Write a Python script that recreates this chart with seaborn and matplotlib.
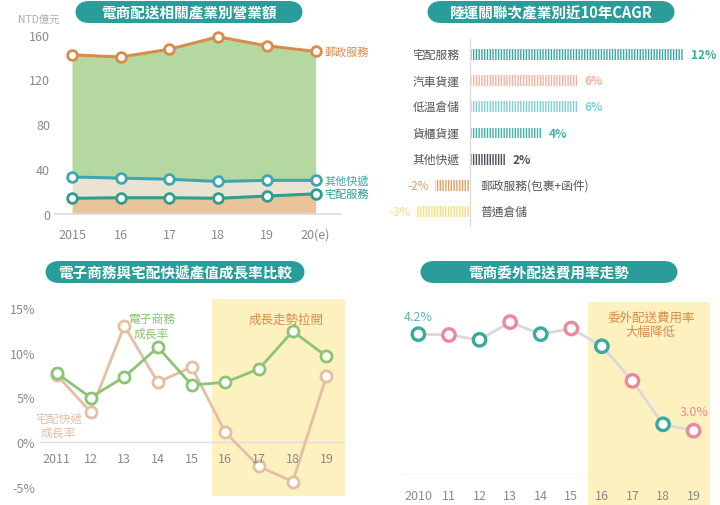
import matplotlib
matplotlib.use("Agg")
import matplotlib.pyplot as plt
from matplotlib.patches import FancyBboxPatch, Rectangle
import seaborn as sns
import pandas as pd

plt.rcParams["font.family"] = ["Noto Sans CJK TC", "DejaVu Sans"]
sns.set_theme(style="white", rc={"font.family": ["Noto Sans CJK TC", "DejaVu Sans"]})

# ---- data ----
rev_years = ["2015", "16", "17", "18", "19", "20(e)"]
rev_post = [142, 140, 147, 158, 150, 145]
rev_other = [33, 32, 31, 29, 30, 30]
rev_home = [14, 14.5, 14.5, 14, 16, 18]

cagr_cats = ["宅配服務", "汽車貨運", "低溫倉儲", "貨櫃貨運", "其他快遞", "郵政服務(包裹+函件)", "普通倉儲"]
cagr_vals = [12, 6, 6, 4, 2, -2, -3]

gr_years = ["2011", "12", "13", "14", "15", "16", "17", "18", "19"]
gr_ecom = [7.7, 5.0, 7.3, 10.6, 6.4, 6.7, 8.2, 12.4, 9.6]
gr_deliv = [7.5, 3.4, 13.0, 6.7, 8.4, 1.1, -2.7, -4.4, 7.4]

fee_years = ["2010", "11", "12", "13", "14", "15", "16", "17", "18", "19"]
fee_vals = [4.2, 4.19, 4.13, 4.35, 4.2, 4.27, 4.05, 3.62, 3.08, 3.0]

TEAL = "#2a9d9b"
GRAY = "#8a8a8a"
W, H = 720, 506
fig = plt.figure(figsize=(7.2, 5.06), dpi=100)

def ax_px(l, t, r, b):
    return fig.add_axes([l / W, 1 - b / H, (r - l) / W, (b - t) / H])

def pill(l, r, yc, text):
    h = 22
    p = FancyBboxPatch((l / W, (H - yc - h / 2) / H), (r - l) / W, h / H,
                       boxstyle="round,pad=0,rounding_size=0.02", transform=fig.transFigure,
                       fc=TEAL, ec="none", mutation_aspect=W / H)
    fig.patches.append(p)
    fig.text((l + r) / 2 / W, 1 - yc / H, text, color="white", ha="center", va="center",
             fontsize=10.5, fontweight="bold")

def style(ax):
    for s in ax.spines.values():
        s.set_visible(False)
    ax.tick_params(colors=GRAY, labelsize=9, length=0)

# ---- panel 1 ----
ax1 = ax_px(55, 30, 340, 215)
x = list(range(len(rev_years)))
ax1.fill_between(x, 0, rev_home, color="#e9c49a", lw=0)
ax1.fill_between(x, rev_home, rev_other, color="#ebe3d2", lw=0)
ax1.fill_between(x, rev_other, rev_post, color="#b5d8a0", lw=0)
df1 = pd.DataFrame({"x": x, "post": rev_post, "other": rev_other, "home": rev_home})
for col, c in [("post", "#d98c4a"), ("other", "#3ea6b0"), ("home", "#2f9e8f")]:
    sns.lineplot(data=df1, x="x", y=col, ax=ax1, color=c, lw=2.2, marker="o", ms=7,
                 mfc="white", mec=c, mew=2)
ax1.set_xlim(-0.35, 5.5)
ax1.set_ylim(0, 165)
ax1.set_yticks([0, 40, 80, 120, 160])
ax1.set_xticks(x, rev_years)
ax1.set_xlabel(""); ax1.set_ylabel("")
style(ax1)
ax1.spines["bottom"].set_visible(True); ax1.spines["bottom"].set_color("#dddddd")
ax1.tick_params(axis="x", length=4, color="#dddddd", pad=6)
ax1.text(-0.13, 1.02, "NTD億元", transform=ax1.transAxes, color="#aaaaaa", fontsize=7.5, va="bottom")
ax1.text(5.18, rev_post[-1], "郵政服務", color="#d98c4a", fontsize=8, va="center")
ax1.text(5.18, rev_other[-1], "其他快遞", color="#3ea6b0", fontsize=8, va="center")
ax1.text(5.18, rev_home[-1], "宅配服務", color="#2f9e8f", fontsize=8, va="center")
pill(75, 303, 13, "電商配送相關產業別營業額")

# ---- panel 2 ----
ax2 = ax_px(400, 40, 705, 228)
cols2 = ["#3aa9a6", "#f0b3a0", "#7fcfd8", "#45b0ad", "#4a4f5e", "#e0a060", "#f5dc80"]
y2 = list(range(len(cagr_cats)))
ax2.barh(y2, cagr_vals, height=0.42, color="white", edgecolor=cols2, hatch="||||||", lw=0)
for i, (c, v) in enumerate(zip(cagr_cats, cagr_vals)):
    if v > 0:
        ax2.text(-0.6, i, c, ha="right", va="center", fontsize=8.5, color="#555555")
        ax2.text(v + 0.4, i, f"{v}%", ha="left", va="center", fontsize=8.5, color=cols2[i],
                 fontweight="bold")
    else:
        ax2.text(0.6, i, c, ha="left", va="center", fontsize=8.5, color="#555555")
        ax2.text(v - 0.3, i, f"{v}%", ha="right", va="center", fontsize=8.5, color=cols2[i])
ax2.axvline(0, color="#dddddd", lw=1)
ax2.set_xlim(-3.94, 13.2)
ax2.set_ylim(6.6, -0.6)
ax2.set_xticks([]); ax2.set_yticks([])
style(ax2)
pill(427, 675, 13, "陸運關聯次產業別近10年CAGR")

# ---- panel 3 ----
ax3 = ax_px(40, 300, 345, 497)
x3 = list(range(len(gr_years)))
ax3.add_patch(Rectangle((4.6, -6), 4.4, 22, color="#fdf1c0", lw=0, zorder=0))
df3 = pd.DataFrame({"x": x3, "e": gr_ecom, "d": gr_deliv})
sns.lineplot(data=df3, x="x", y="d", ax=ax3, color="#e3bfa3", lw=2, marker="o", ms=8,
             mfc="white", mec="#e3bfa3", mew=2)
sns.lineplot(data=df3, x="x", y="e", ax=ax3, color="#8cc474", lw=2, marker="o", ms=8,
             mfc="white", mec="#8cc474", mew=2)
ax3.axhline(0, color="#dddddd", lw=1, zorder=0.5)
ax3.set_xlim(-0.5, 8.55)
ax3.set_ylim(-6, 16)
ax3.set_yticks([-5, 0, 5, 10, 15], ["-5%", "0%", "5%", "10%", "15%"])
ax3.set_xticks([])
for i, t in enumerate(gr_years):
    ax3.text(i, -1.8, t, ha="center", va="center", fontsize=9, color=GRAY)
ax3.set_xlabel(""); ax3.set_ylabel("")
style(ax3)
ax3.text(6.8, 13.7, "成長走勢拉開", color="#d98c4a", fontsize=9, ha="center", va="center")
ax3.text(2.8, 13.0, "電子商務\n成長率", color="#8cc474", fontsize=8.5, ha="center", va="center",
         linespacing=1.1)
ax3.text(0.05, 1.9, "宅配快遞\n成長率", color="#e3bfa3", fontsize=8.5, ha="center", va="center",
         linespacing=1.1)
pill(45, 305, 273, "電子商務與宅配快遞產值成長率比較")

# ---- panel 4 ----
ax4 = ax_px(400, 303, 712, 476)
x4 = list(range(len(fee_years)))
ax4.add_patch(Rectangle((5.55, 2.0), 4.0, 2.6, color="#fdf1c0", lw=0, zorder=0, clip_on=False))
df4 = pd.DataFrame({"x": x4, "v": fee_vals})
sns.lineplot(data=df4, x="x", y="v", ax=ax4, color="#d9d9d9", lw=2)
mc = ["#3aa9a0" if i % 2 == 0 else "#e88a9a" for i in x4]
ax4.scatter(x4, fee_vals, s=80, facecolor="white", edgecolor=mc, lw=2.4, zorder=3)
ax4.axhline(2.45, color="#dddddd", lw=1)
ax4.set_xlim(-0.6, 9.6)
ax4.set_ylim(2.45, 4.6)
ax4.set_yticks([]); ax4.set_xticks([])
for i, t in enumerate(fee_years):
    ax4.text(i, 2.2, t, ha="center", va="center", fontsize=9, color=GRAY)
ax4.set_xlabel(""); ax4.set_ylabel("")
style(ax4)
ax4.text(0, 4.42, "4.2%", color="#5fb3ae", fontsize=9, ha="center", va="center")
ax4.text(9.0, 3.24, "3.0%", color="#e88a9a", fontsize=9, ha="center", va="center")
ax4.text(7.6, 4.32, "委外配送費用率\n大幅降低", color="#d98c4a", fontsize=9, ha="center",
         va="center", linespacing=1.1)
pill(420, 678, 273, "電商委外配送費用率走勢")

fig.savefig("out.png", dpi=100, facecolor="white")
